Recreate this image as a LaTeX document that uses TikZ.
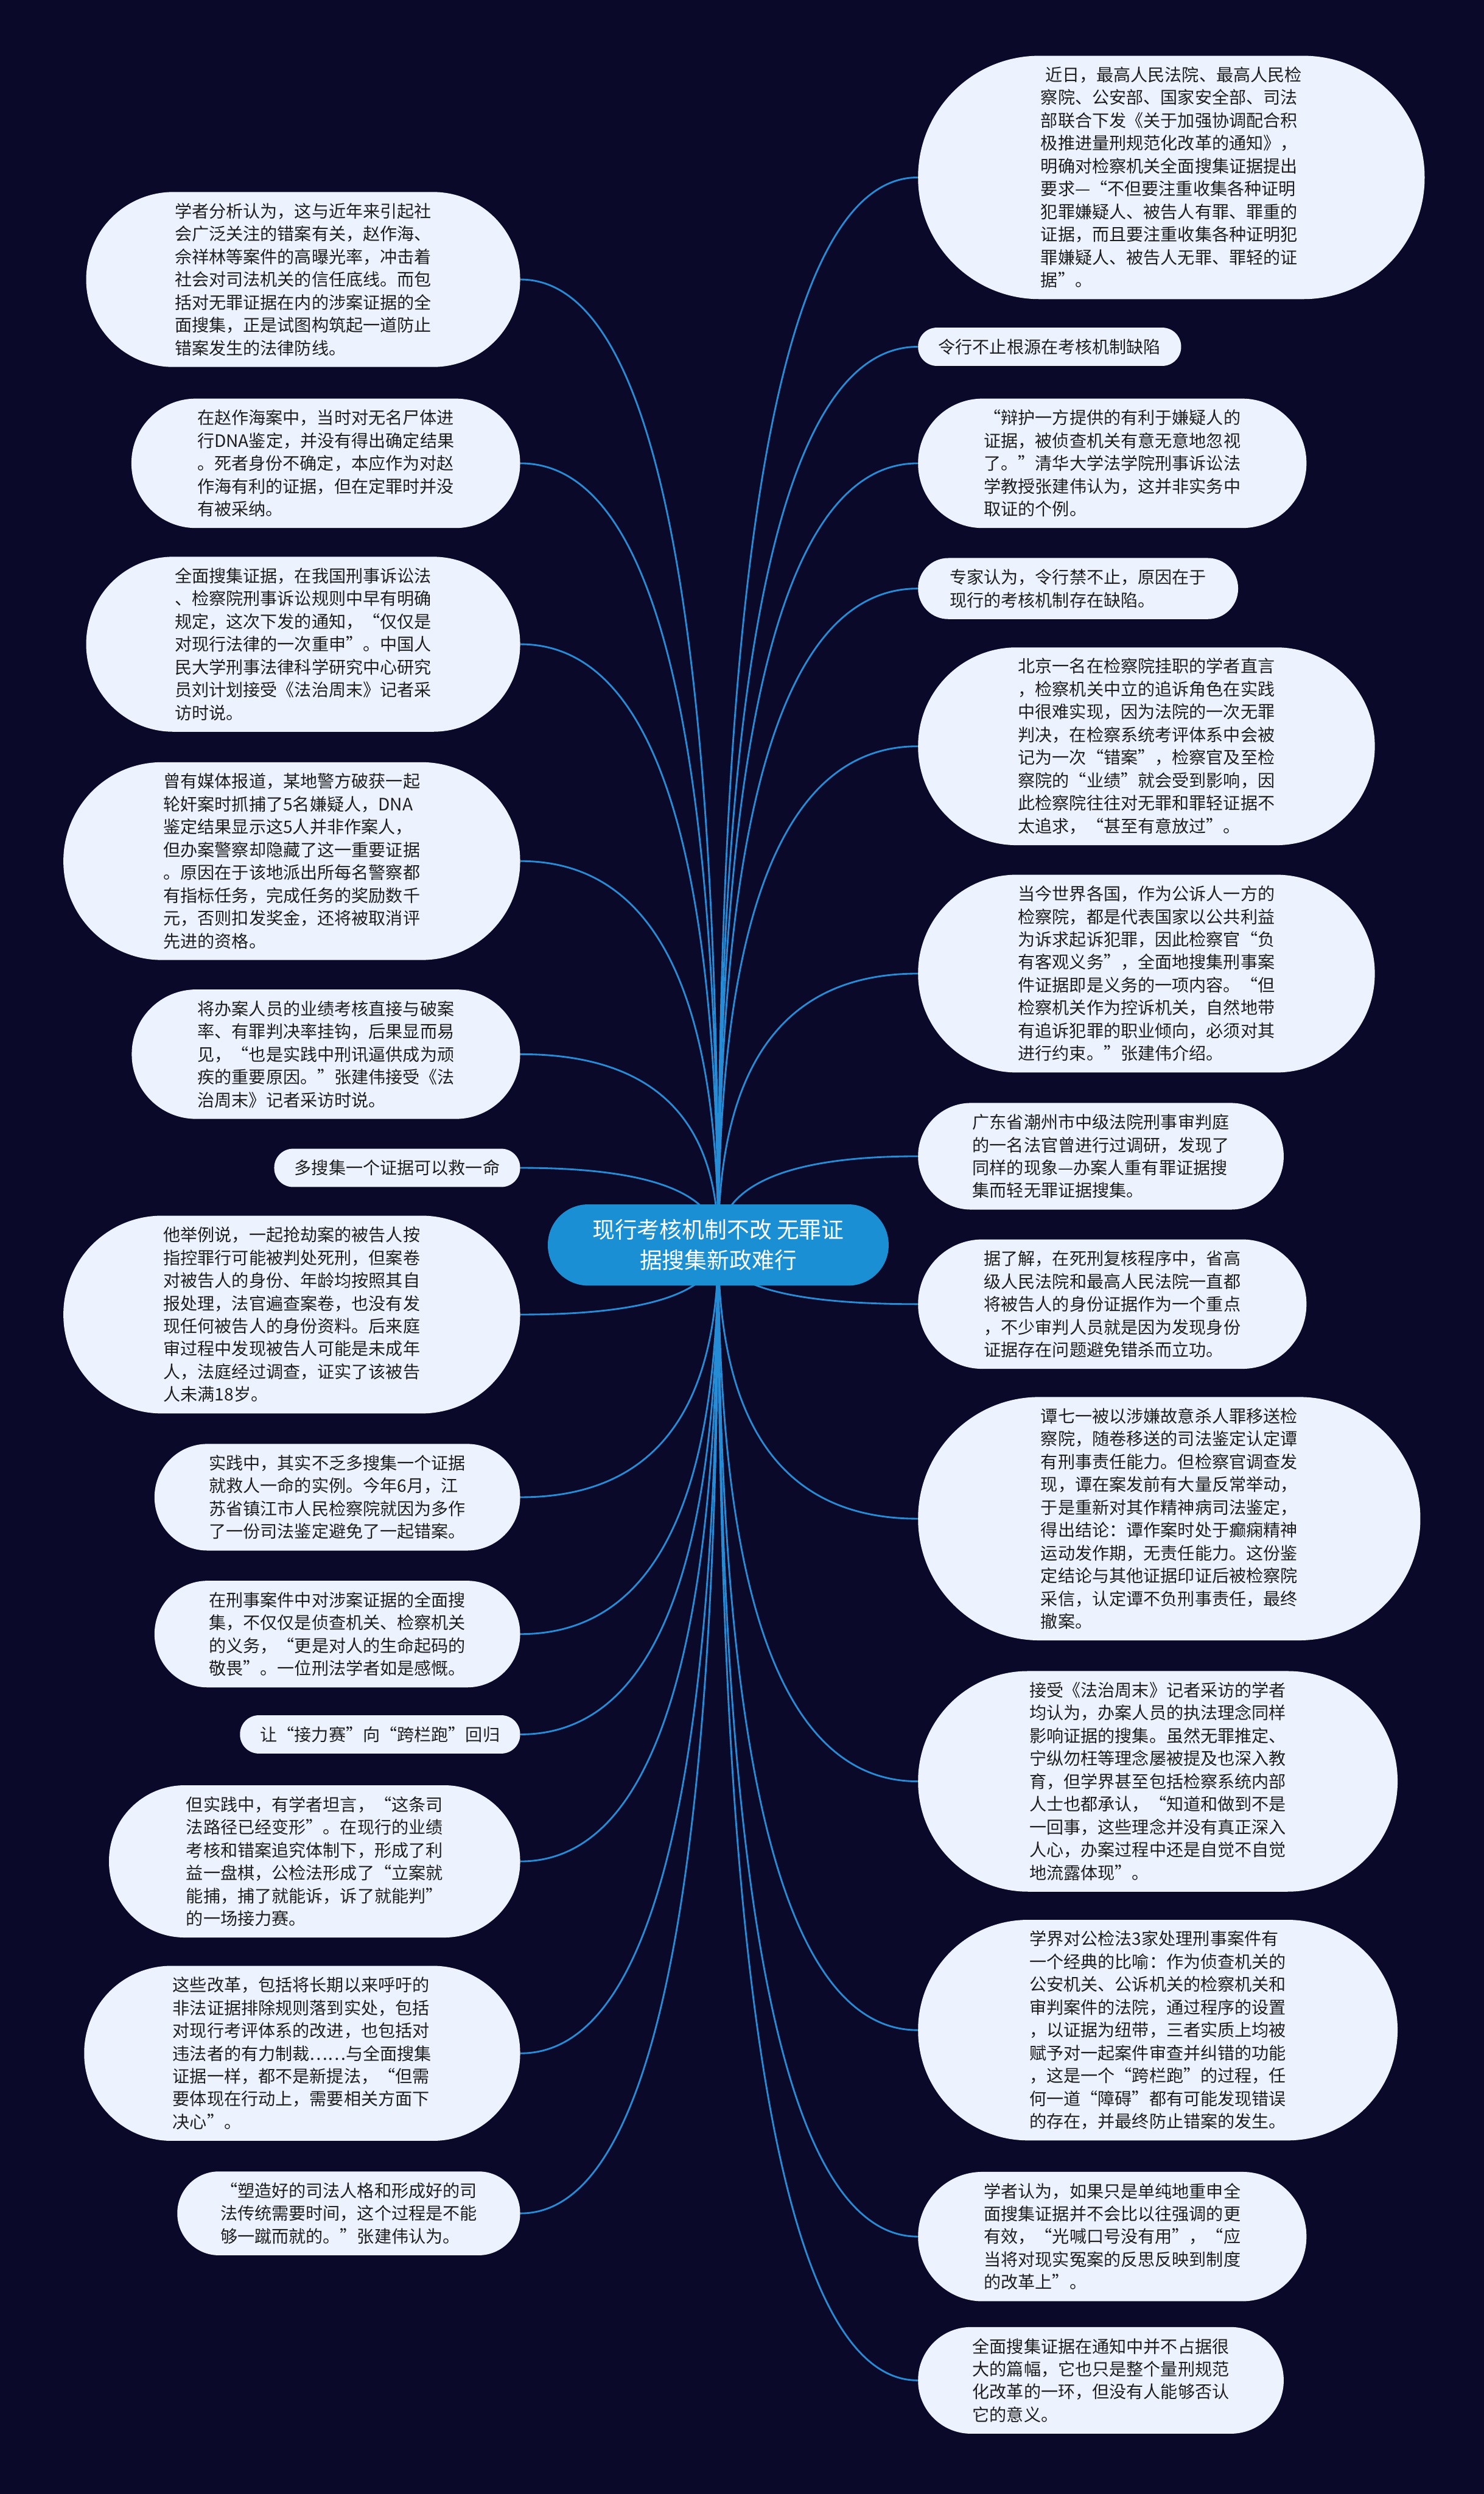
\documentclass[tikz,border=0pt]{standalone}
\usepackage{fontspec}
\newfontfamily\cjk{Noto Sans CJK SC}
\usetikzlibrary{calc}
\definecolor{bgc}{RGB}{11,9,42}
\definecolor{nodefill}{RGB}{237,243,254}
\definecolor{nodetext}{RGB}{30,30,30}
\definecolor{topicfill}{RGB}{26,143,211}
\definecolor{linkc}{RGB}{38,140,214}
\pgfdeclarelayer{bglayer}
\pgfdeclarelayer{linklayer}
\pgfsetlayers{bglayer,linklayer,main}
\newcommand\mmlink[2]{%
  \coordinate (q-#1) at (c.center |- #1.#2);
  \draw[link] (c.center) .. controls ($(c.center)!0.6667!(q-#1)$) and ($(#1.#2)!0.6667!(q-#1)$) .. (#1.#2);
}
\begin{document}
\begin{tikzpicture}[
  bubble/.style={rectangle, fill=nodefill, text=nodetext,
    font=\cjk\fontsize{8.4pt}{11.2pt}\selectfont, align=left,
    inner ysep=0.08cm},
  b1/.style={bubble, minimum height=0.66cm, rounded corners=0.325cm, inner xsep=0.35cm},
  b2/.style={bubble, minimum height=1.053cm, rounded corners=0.5215cm, inner xsep=0.5465cm},
  b3/.style={bubble, minimum height=1.446cm, rounded corners=0.718cm, inner xsep=0.743cm},
  b4/.style={bubble, minimum height=1.839cm, rounded corners=0.9145cm, inner xsep=0.9395cm},
  b5/.style={bubble, minimum height=2.232cm, rounded corners=1.111cm, inner xsep=1.136cm},
  b6/.style={bubble, minimum height=2.625cm, rounded corners=1.3075cm, inner xsep=1.3325cm},
  b7/.style={bubble, minimum height=3.018cm, rounded corners=1.504cm, inner xsep=1.529cm},
  b8/.style={bubble, minimum height=3.411cm, rounded corners=1.7005cm, inner xsep=1.7255cm},
  b9/.style={bubble, minimum height=3.804cm, rounded corners=1.897cm, inner xsep=1.922cm},
  b10/.style={bubble, minimum height=4.197cm, rounded corners=2.0935cm, inner xsep=2.1185cm},
  topic/.style={rectangle, fill=topicfill, text=white,
    font=\cjk\fontsize{11pt}{14.8pt}\selectfont, align=center,
    minimum height=1.40cm, rounded corners=0.695cm,
    inner xsep=0.77cm, inner ysep=0.08cm},
  link/.style={draw=linkc, line width=0.85pt},
  lnode/.style={anchor=east},
  rnode/.style={anchor=west}
]
\begin{pgfonlayer}{bglayer}
\fill[bgc] (0,0) rectangle (25.6,-43.01);
\end{pgfonlayer}
\useasboundingbox (0,0) rectangle (25.6,-43.01);

\node[topic] (c) at (12.39,-21.47) {现行考核机制不改 无罪证\\据搜集新政难行};

% left column
\node[b7,lnode] (L1) at (8.98,-4.82) {学者分析认为，这与近年来引起社\\会广泛关注的错案有关，赵作海、\\佘祥林等案件的高曝光率，冲击着\\社会对司法机关的信任底线。而包\\括对无罪证据在内的涉案证据的全\\面搜集，正是试图构筑起一道防止\\错案发生的法律防线。};
\node[b5,lnode] (L2) at (8.98,-7.99) {在赵作海案中，当时对无名尸体进\\行DNA鉴定，并没有得出确定结果\\。死者身份不确定，本应作为对赵\\作海有利的证据，但在定罪时并没\\有被采纳。};
\node[b7,lnode] (L3) at (8.98,-11.11) {全面搜集证据，在我国刑事诉讼法\\、检察院刑事诉讼规则中早有明确\\规定，这次下发的通知，“仅仅是\\对现行法律的一次重申”。中国人\\民大学刑事法律科学研究中心研究\\员刘计划接受《法治周末》记者采\\访时说。};
\node[b8,lnode] (L4) at (8.98,-14.85) {曾有媒体报道，某地警方破获一起\\轮奸案时抓捕了5名嫌疑人，DNA\\鉴定结果显示这5人并非作案人，\\但办案警察却隐藏了这一重要证据\\。原因在于该地派出所每名警察都\\有指标任务，完成任务的奖励数千\\元，否则扣发奖金，还将被取消评\\先进的资格。};
\node[b5,lnode] (L5) at (8.98,-18.18) {将办案人员的业绩考核直接与破案\\率、有罪判决率挂钩，后果显而易\\见，“也是实践中刑讯逼供成为顽\\疾的重要原因。”张建伟接受《法\\治周末》记者采访时说。};
\node[b1,lnode] (L6) at (8.98,-20.14) {多搜集一个证据可以救一命};
\node[b8,lnode] (L7) at (8.98,-22.67) {他举例说，一起抢劫案的被告人按\\指控罪行可能被判处死刑，但案卷\\对被告人的身份、年龄均按照其自\\报处理，法官遍查案卷，也没有发\\现任何被告人的身份资料。后来庭\\审过程中发现被告人可能是未成年\\人，法庭经过调查，证实了该被告\\人未满18岁。};
\node[b4,lnode] (L8) at (8.98,-25.82) {实践中，其实不乏多搜集一个证据\\就救人一命的实例。今年6月，江\\苏省镇江市人民检察院就因为多作\\了一份司法鉴定避免了一起错案。};
\node[b4,lnode] (L9) at (8.98,-28.18) {在刑事案件中对涉案证据的全面搜\\集，不仅仅是侦查机关、检察机关\\的义务，“更是对人的生命起码的\\敬畏”。一位刑法学者如是感慨。};
\node[b1,lnode] (L10) at (8.98,-29.91) {让“接力赛”向“跨栏跑”回归};
\node[b6,lnode] (L11) at (8.98,-32.10) {但实践中，有学者坦言，“这条司\\法路径已经变形”。在现行的业绩\\考核和错案追究体制下，形成了利\\益一盘棋，公检法形成了“立案就\\能捕，捕了就能诉，诉了就能判”\\的一场接力赛。};
\node[b7,lnode] (L12) at (8.98,-35.41) {这些改革，包括将长期以来呼吁的\\非法证据排除规则落到实处，包括\\对现行考评体系的改进，也包括对\\违法者的有力制裁……与全面搜集\\证据一样，都不是新提法，“但需\\要体现在行动上，需要相关方面下\\决心”。};
\node[b3,lnode] (L13) at (8.98,-38.17) {“塑造好的司法人格和形成好的司\\法传统需要时间，这个过程是不能\\够一蹴而就的。”张建伟认为。};

% right column
\node[b10,rnode] (R1) at (15.83,-3.06) {\hspace*{0.25em}近日，最高人民法院、最高人民检\\察院、公安部、国家安全部、司法\\部联合下发《关于加强协调配合积\\极推进量刑规范化改革的通知》，\\明确对检察机关全面搜集证据提出\\要求—“不但要注重收集各种证明\\犯罪嫌疑人、被告人有罪、罪重的\\证据，而且要注重收集各种证明犯\\罪嫌疑人、被告人无罪、罪轻的证\\据”。};
\node[b1,rnode] (R2) at (15.83,-5.98) {令行不止根源在考核机制缺陷};
\node[b5,rnode] (R3) at (15.83,-7.99) {“辩护一方提供的有利于嫌疑人的\\证据，被侦查机关有意无意地忽视\\了。”清华大学法学院刑事诉讼法\\学教授张建伟认为，这并非实务中\\取证的个例。};
\node[b2,rnode] (R4) at (15.83,-10.15) {专家认为，令行禁不止，原因在于\\现行的考核机制存在缺陷。};
\node[b8,rnode] (R5) at (15.83,-12.87) {北京一名在检察院挂职的学者直言\\，检察机关中立的追诉角色在实践\\中很难实现，因为法院的一次无罪\\判决，在检察系统考评体系中会被\\记为一次“错案”，检察官及至检\\察院的“业绩”就会受到影响，因\\此检察院往往对无罪和罪轻证据不\\太追求，“甚至有意放过”。};
\node[b8,rnode] (R6) at (15.83,-16.79) {当今世界各国，作为公诉人一方的\\检察院，都是代表国家以公共利益\\为诉求起诉犯罪，因此检察官“负\\有客观义务”，全面地搜集刑事案\\件证据即是义务的一项内容。“但\\检察机关作为控诉机关，自然地带\\有追诉犯罪的职业倾向，必须对其\\进行约束。”张建伟介绍。};
\node[b4,rnode] (R7) at (15.83,-19.94) {广东省潮州市中级法院刑事审判庭\\的一名法官曾进行过调研，发现了\\同样的现象—办案人重有罪证据搜\\集而轻无罪证据搜集。};
\node[b5,rnode] (R8) at (15.83,-22.49) {据了解，在死刑复核程序中，省高\\级人民法院和最高人民法院一直都\\将被告人的身份证据作为一个重点\\，不少审判人员就是因为发现身份\\证据存在问题避免错杀而立功。};
\node[b10,rnode] (R9) at (15.83,-26.19) {谭七一被以涉嫌故意杀人罪移送检\\察院，随卷移送的司法鉴定认定谭\\有刑事责任能力。但检察官调查发\\现，谭在案发前有大量反常举动，\\于是重新对其作精神病司法鉴定，\\得出结论：谭作案时处于癫痫精神\\运动发作期，无责任能力。这份鉴\\定结论与其他证据印证后被检察院\\采信，认定谭不负刑事责任，最终\\撤案。};
\node[b9,rnode] (R10) at (15.83,-30.72) {接受《法治周末》记者采访的学者\\均认为，办案人员的执法理念同样\\影响证据的搜集。虽然无罪推定、\\宁纵勿枉等理念屡被提及也深入教\\育，但学界甚至包括检察系统内部\\人士也都承认，“知道和做到不是\\一回事，这些理念并没有真正深入\\人心，办案过程中还是自觉不自觉\\地流露体现”。};
\node[b9,rnode] (R11) at (15.83,-35.01) {学界对公检法3家处理刑事案件有\\一个经典的比喻：作为侦查机关的\\公安机关、公诉机关的检察机关和\\审判案件的法院，通过程序的设置\\，以证据为纽带，三者实质上均被\\赋予对一起案件审查并纠错的功能\\，这是一个“跨栏跑”的过程，任\\何一道“障碍”都有可能发现错误\\的存在，并最终防止错案的发生。};
\node[b5,rnode] (R12) at (15.83,-38.57) {学者认为，如果只是单纯地重申全\\面搜集证据并不会比以往强调的更\\有效，“光喊口号没有用”，“应\\当将对现实冤案的反思反映到制度\\的改革上”。};
\node[b4,rnode] (R13) at (15.83,-41.05) {全面搜集证据在通知中并不占据很\\大的篇幅，它也只是整个量刑规范\\化改革的一环，但没有人能够否认\\它的意义。};

\begin{pgfonlayer}{linklayer}
\mmlink{L1}{east}\mmlink{L2}{east}\mmlink{L3}{east}\mmlink{L4}{east}
\mmlink{L5}{east}\mmlink{L6}{east}\mmlink{L7}{east}\mmlink{L8}{east}
\mmlink{L9}{east}\mmlink{L10}{east}\mmlink{L11}{east}\mmlink{L12}{east}
\mmlink{L13}{east}
\mmlink{R1}{west}\mmlink{R2}{west}\mmlink{R3}{west}\mmlink{R4}{west}
\mmlink{R5}{west}\mmlink{R6}{west}\mmlink{R7}{west}\mmlink{R8}{west}
\mmlink{R9}{west}\mmlink{R10}{west}\mmlink{R11}{west}\mmlink{R12}{west}
\mmlink{R13}{west}
\end{pgfonlayer}
\end{tikzpicture}
\end{document}
